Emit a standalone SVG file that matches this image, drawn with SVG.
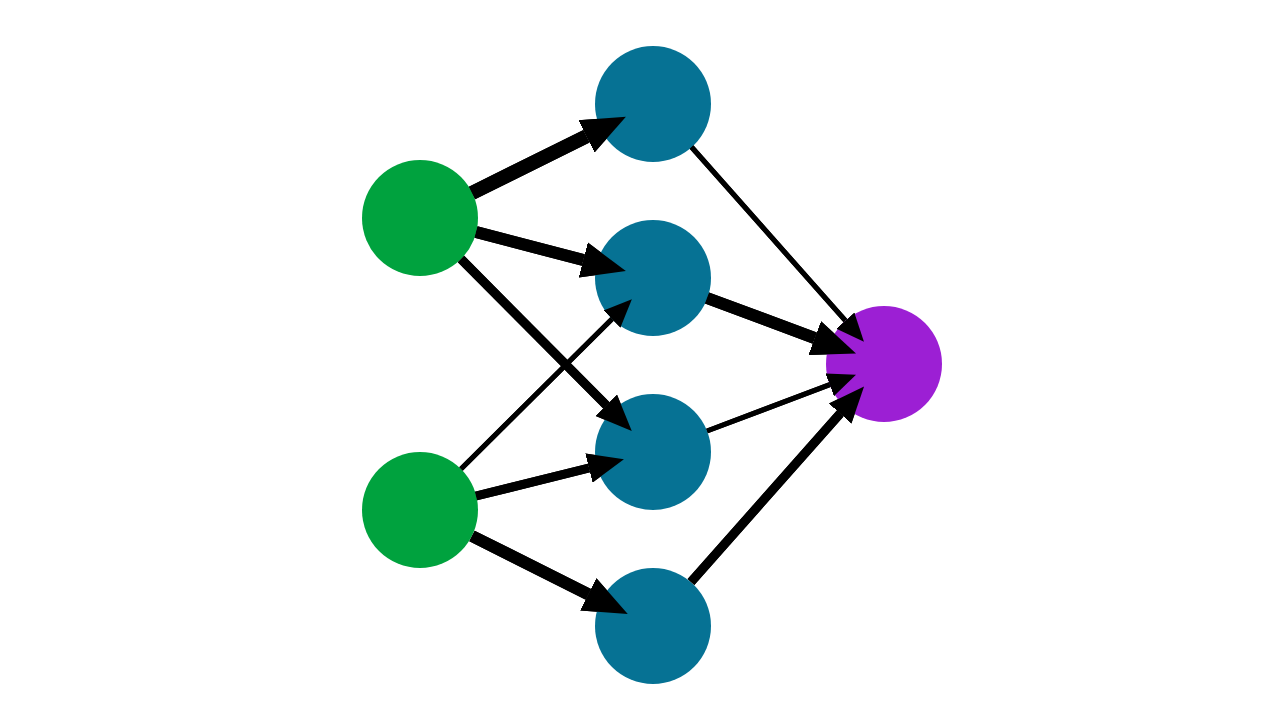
<svg xmlns="http://www.w3.org/2000/svg" width="1280" height="720" viewBox="0 0 1280 720">
<style>
.in{fill:#00a23e}.hid{fill:#067294}.out{fill:#9c1fd4}
line{stroke:#000}
</style>
<defs>
<marker id="L" markerUnits="userSpaceOnUse" viewBox="0 -20 50 40" markerWidth="50" markerHeight="40" refX="0" refY="0" orient="auto"><path d="M0,-18L44,0L0,18z"/></marker>
<marker id="M" markerUnits="userSpaceOnUse" viewBox="0 -20 50 40" markerWidth="50" markerHeight="40" refX="0" refY="0" orient="auto"><path d="M0,-15L36,0L0,15z"/></marker>
<marker id="S" markerUnits="userSpaceOnUse" viewBox="0 -20 50 40" markerWidth="50" markerHeight="40" refX="0" refY="0" orient="auto"><path d="M0,-12L28,0L0,12z"/></marker>
</defs>
<rect width="1280" height="720" fill="#fff"/>
<g id="connectors">
<line x1="472" y1="193" x2="586.5" y2="136.3" stroke-width="14" marker-end="url(#L)"/>
<line x1="476" y1="232" x2="583.3" y2="260" stroke-width="12" marker-end="url(#L)"/>
<line x1="461" y1="259" x2="606.4" y2="405.4" stroke-width="9" marker-end="url(#M)"/>
<line x1="461" y1="469" x2="612" y2="319" stroke-width="5" marker-end="url(#S)"/>
<line x1="476" y1="496" x2="589" y2="468" stroke-width="9" marker-end="url(#M)"/>
<line x1="472" y1="536" x2="588.4" y2="594.3" stroke-width="12" marker-end="url(#L)"/>
<line x1="691.5" y1="147" x2="845.4" y2="320.7" stroke-width="5" marker-end="url(#S)"/>
<line x1="707" y1="298" x2="814.8" y2="338.1" stroke-width="12" marker-end="url(#L)"/>
<line x1="707" y1="431" x2="829.8" y2="384.7" stroke-width="5" marker-end="url(#S)"/>
<line x1="691" y1="582" x2="840.2" y2="413.5" stroke-width="9" marker-end="url(#M)"/>
</g>
<g id="in1"><circle class="in" cx="420" cy="218" r="58"/></g>
<g id="in2"><circle class="in" cx="420" cy="510" r="58"/></g>
<g id="h1"><circle class="hid" cx="653" cy="104" r="58"/></g>
<g id="h2"><circle class="hid" cx="653" cy="278" r="58"/></g>
<g id="h3"><circle class="hid" cx="653" cy="452" r="58"/></g>
<g id="h4"><circle class="hid" cx="653" cy="626" r="58"/></g>
<g id="out"><circle class="out" cx="884" cy="364" r="58"/></g>
<use href="#connectors"/>
</svg>
